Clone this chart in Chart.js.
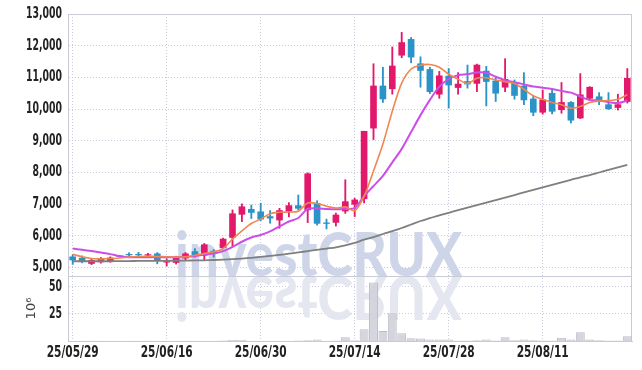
<!DOCTYPE html>
<html>
<head>
<meta charset="utf-8">
<script src="https://cdn.jsdelivr.net/npm/chart.js@4.4.0/dist/chart.umd.min.js"></script>
<style>
  html, body { margin: 0; padding: 0; background: #fff; }
</style>
</head>
<body>
<canvas id="grafico" width="642" height="370"></canvas>
<script>
// fechas de negociación (aa/mm/dd)
const fechas = [
  '25/05/29','25/05/30','25/06/02','25/06/04','25/06/05','25/06/09','25/06/10','25/06/11','25/06/12','25/06/13',
  '25/06/16','25/06/17','25/06/18','25/06/19','25/06/20','25/06/23','25/06/24','25/06/25','25/06/26','25/06/27',
  '25/06/30','25/07/01','25/07/02','25/07/03','25/07/04','25/07/07','25/07/08','25/07/09','25/07/10','25/07/11',
  '25/07/14','25/07/15','25/07/16','25/07/17','25/07/18','25/07/21','25/07/22','25/07/23','25/07/24','25/07/25',
  '25/07/28','25/07/29','25/07/30','25/07/31','25/08/01','25/08/04','25/08/05','25/08/06','25/08/07','25/08/08',
  '25/08/11','25/08/12','25/08/13','25/08/14','25/08/18','25/08/19','25/08/20','25/08/21','25/08/22','25/08/25'
]
const aperturas = [
  5340, 5300, 5130, 5180, 5210, 5370, 5420, 5420, 5390, 5435,
  5170, 5160, 5300, 5505, 5390, 5520, 5630, 5950, 6680, 6840,
  6760, 6610, 6500, 6785, 6955, 6820, 7030, 6410, 6425, 6785,
  6995, 7170, 9400, 10730, 10640, 11700, 12200, 11430, 11250, 10470,
  11040, 10680, 10870, 10810, 11200, 10890, 10690, 10840, 10730, 10320,
  9900, 10500, 9980, 10210, 9720, 10340, 10390, 10140, 10050, 10240
]
const cierres = [
  5240, 5200, 5230, 5285, 5305, 5350, 5400, 5400, 5410, 5220,
  5190, 5315, 5435, 5400, 5720, 5445, 5900, 6700, 6920, 6740,
  6530, 6560, 6800, 6955, 6870, 7960, 6395, 6390, 6660, 7080,
  7135, 9300, 10730, 10320, 11360, 12100, 11640, 11220, 10550, 11050,
  10760, 10790, 10790, 11390, 10870, 10500, 10940, 10430, 10290, 9900,
  10290, 9930, 10210, 9650, 10450, 10690, 10240, 10010, 10140, 10970
]
const maximos = [
  5410, 5370, 5285, 5320, 5340, 5390, 5470, 5480, 5450, 5475,
  5280, 5360, 5475, 5600, 5760, 5570, 5930, 6820, 7010, 6975,
  7030, 6800, 6870, 7050, 7290, 7990, 7110, 6530, 6720, 7770,
  7190, 9300, 11430, 11320, 11960, 12420, 12260, 11650, 11320, 11190,
  11280, 11150, 11390, 11420, 11350, 11020, 11590, 10920, 11150, 10400,
  10600, 10620, 10840, 10240, 11120, 10710, 10520, 10520, 10470, 11280
]
const minimos = [
  5100, 5150, 5095, 5140, 5170, 5330, 5340, 5340, 5350, 5120,
  5050, 5110, 5240, 5330, 5250, 5330, 5600, 5650, 6450, 6550,
  6480, 6400, 6240, 6600, 6820, 6420, 6340, 6220, 6310, 6710,
  6610, 7040, 9040, 10210, 10470, 11620, 11460, 10690, 10490, 10340,
  10030, 10470, 10660, 10550, 10100, 10240, 10550, 10310, 10140, 9790,
  9840, 9850, 9870, 9560, 9700, 10310, 10140, 9990, 9970, 10190
]
// medias móviles
const media5 = [
  5420, 5340, 5285, 5275, 5285, 5305, 5330, 5350, 5360, 5350,
  5340, 5330, 5340, 5390, 5445, 5500, 5600, 5900, 6160, 6390,
  6530, 6700, 6745, 6755, 6780, 7040, 7020, 6935, 6880, 6915,
  6800, 7255, 8050, 8900, 9935, 10820, 11265, 11385, 11405, 11320,
  11100, 10940, 10810, 10970, 10990, 10920, 10865, 10810, 10625, 10420,
  10310, 10210, 10135, 10030, 10085, 10210, 10260, 10270, 10310, 10450
]
const media10 = [
  5600, 5560, 5520, 5475, 5425, 5360, 5330, 5330, 5330, 5330,
  5330, 5330, 5340, 5360, 5410, 5445, 5520, 5655, 5815, 5950,
  6030, 6140, 6300, 6455, 6565, 6850, 6870, 6850, 6840, 6850,
  6880, 7255, 7575, 7895, 8320, 8745, 9275, 9810, 10290, 10710,
  10950, 11070, 11105, 11155, 11145, 11020, 10915, 10845, 10780, 10710,
  10675, 10635, 10575, 10520, 10395, 10290, 10270, 10220, 10190, 10270
]
const media60 = [
  5200, 5200, 5200, 5200, 5200, 5205, 5205, 5210, 5210, 5212,
  5215, 5218, 5222, 5226, 5230, 5240, 5250, 5265, 5285, 5310,
  5340, 5370, 5400, 5440, 5480, 5520, 5560, 5600, 5640, 5700,
  5780, 5880, 5960, 6060, 6150, 6250, 6360, 6470, 6560, 6650,
  6730, 6810, 6890, 6970, 7050, 7130, 7210, 7290, 7370, 7450,
  7530, 7610, 7690, 7770, 7850, 7920, 8000, 8080, 8160, 8240
]
// volumen en millones
const volumen = [
  0.2, 0.2, 0.2, 0.2, 0.2, 0.2, 0.2, 0.2, 0.2, 0.2,
  0.2, 0.2, 0.2, 0.2, 0.3, 0.2, 0.4, 1.0, 1.0, 0.3,
  0.3, 0.2, 0.3, 0.3, 0.4, 0.6, 1.5, 0.3, 0.5, 3.4,
  0.8, 10.8, 54, 9.3, 25.6, 7.1, 2.5, 2.2, 1.5, 1.5,
  1.5, 0.5, 0.5, 0.6, 1.5, 0.5, 3.4, 0.6, 1.5, 0.6,
  0.5, 0.5, 3.0, 1.5, 8.0, 1.5, 0.6, 0.5, 0.5, 4.3
]
const fechasEje = ['25/05/29', '25/06/16', '25/06/30', '25/07/14', '25/07/28', '25/08/11']
const preciosEje = [5000, 6000, 7000, 8000, 9000, 10000, 11000, 12000, 13000]
const volumenEje = [25, 50]
const marca = 'investCRUX'

const rojo = '#e2196b'
const azul = '#2b93c7'
const colorGrilla = '#c9cbdd'
const colorBorde = '#c8cad6'
const fuenteEje = "bold 15px 'DejaVu Sans Condensed', 'DejaVu Sans', sans-serif"

const colores = cierres.map((c, i) => c >= aperturas[i] ? rojo : azul)

// texto angosto: se comprime en horizontal hasta el ancho deseado
const textoAngosto = (ctx, txt, x, y, factor, alinear) => {
  ctx.save()
  ctx.translate(x, y)
  ctx.scale(factor, 1)
  ctx.textAlign = alinear
  ctx.fillText(txt, 0, 0)
  ctx.restore()
}

const marcoPlugin = {
  id: 'marco',
  beforeDatasetsDraw(chart) {
    const ctx = chart.ctx
    const area = chart.chartArea
    const base = chart.scales.yv.top
    // marca de agua y su reflejo
    ctx.save()
    ctx.font = "900 60px Lato, 'DejaVu Sans', sans-serif"
    const ancho = ctx.measureText(marca).width
    ctx.translate(175, base)
    ctx.scale(287 / ancho, 1)
    ctx.fillStyle = 'rgb(206,213,233)'
    ctx.fillText(marca, 0, 0)
    ctx.scale(1, -1)
    ctx.fillStyle = 'rgb(229,231,240)'
    ctx.fillText(marca, 0, 0)
    ctx.restore()
    // marco y separador
    ctx.save()
    ctx.strokeStyle = colorBorde
    ctx.lineWidth = 1
    ctx.beginPath()
    ctx.moveTo(area.left, area.top + 0.5)
    ctx.lineTo(area.right, area.top + 0.5)
    ctx.moveTo(area.right - 0.5, area.top)
    ctx.lineTo(area.right - 0.5, area.bottom)
    ctx.moveTo(area.left, Math.round(base) + 0.5)
    ctx.lineTo(area.right, Math.round(base) + 0.5)
    ctx.stroke()
    ctx.restore()
  },
  afterDraw(chart) {
    const ctx = chart.ctx
    const { x, y, yv } = chart.scales
    ctx.save()
    ctx.font = fuenteEje
    ctx.fillStyle = '#222'
    ctx.textBaseline = 'middle'
    const fy = 36 / ctx.measureText('13,000').width
    const fx = 52 / ctx.measureText('25/05/29').width
    y.ticks.forEach(t => textoAngosto(ctx, t.value.toLocaleString('en-US'), 62, y.getPixelForValue(t.value), fy, 'right'))
    yv.ticks.forEach(t => textoAngosto(ctx, String(t.value), 62, yv.getPixelForValue(t.value), fy, 'right'))
    x.ticks.forEach(t => textoAngosto(ctx, fechas[t.value], x.getPixelForValue(t.value), 353, fx, 'center'))
    ctx.restore()
  }
}

const config = {
  data: {
    labels: fechas,
    datasets: [
      {
        type: 'line', label: 'MA5', data: media5, yAxisID: 'y',
        borderColor: '#f08650', borderWidth: 1.6, pointRadius: 0, tension: 0.3, order: 0
      },
      {
        type: 'line', label: 'MA10', data: media10, yAxisID: 'y',
        borderColor: '#cc4ee8', borderWidth: 2, pointRadius: 0, tension: 0.3, order: 1
      },
      {
        type: 'line', label: 'MA60', data: media60, yAxisID: 'y',
        borderColor: '#7f7f7f', borderWidth: 1.8, pointRadius: 0, tension: 0.3, order: 1
      },
      {
        type: 'bar', label: 'cuerpo', yAxisID: 'y', grouped: false,
        data: aperturas.map((o, i) => [o, cierres[i]]),
        backgroundColor: colores, barThickness: 6, order: 2
      },
      {
        type: 'bar', label: 'mecha', yAxisID: 'y', grouped: false,
        data: minimos.map((l, i) => [l, maximos[i]]),
        backgroundColor: colores, barThickness: 1.2, order: 3
      },
      {
        type: 'bar', label: 'volumen', yAxisID: 'yv', grouped: false,
        data: volumen,
        backgroundColor: 'rgba(208,208,218,0.9)', borderColor: 'rgba(188,188,202,1)', borderWidth: 1,
        barPercentage: 0.95, categoryPercentage: 1, order: 4
      }
    ]
  },
  options: {
    responsive: false,
    animation: false,
    devicePixelRatio: 1,
    layout: { padding: { top: 14, right: 10, left: 0, bottom: 0 } },
    plugins: { legend: { display: false }, tooltip: { enabled: false } },
    scales: {
      x: {
        type: 'category', offset: true,
        grid: { offset: false, color: colorGrilla, drawTicks: false },
        border: { color: colorBorde, dash: [1, 2] },
        ticks: { display: false, autoSkip: false },
        afterBuildTicks: (s) => { s.ticks = s.ticks.filter(t => fechasEje.includes(fechas[t.value])) },
        afterFit: (s) => { s.height = 29 }
      },
      yv: {
        type: 'linear', position: 'left', stack: 'panel', stackWeight: 65, min: 0, max: 60,
        grid: { color: colorGrilla, drawTicks: false },
        border: { color: colorBorde, dash: [1, 2] },
        ticks: { display: false, autoSkip: false },
        title: { display: true, text: '10⁶', color: '#444', font: { family: "'DejaVu Sans', sans-serif", size: 13 }, padding: { top: 24 } },
        afterBuildTicks: (s) => { s.ticks = volumenEje.map(v => ({ value: v })) },
        afterFit: (s) => { s.width = 68 }
      },
      y: {
        type: 'linear', position: 'left', stack: 'panel', stackWeight: 262, min: 4735, max: 13000,
        grid: { color: colorGrilla, drawTicks: false },
        border: { color: colorBorde, dash: [1, 2] },
        ticks: { display: false, autoSkip: false },
        afterBuildTicks: (s) => { s.ticks = preciosEje.map(v => ({ value: v })) },
        afterFit: (s) => { s.width = 68 }
      }
    }
  },
  plugins: [marcoPlugin]
}

const myChart = new Chart(document.querySelector('#grafico'), config)
</script>
</body>
</html>
